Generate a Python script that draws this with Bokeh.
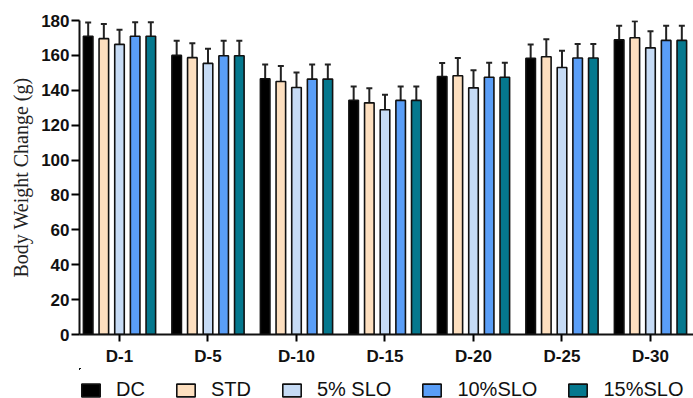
from bokeh.plotting import figure
from bokeh.layouts import column
from bokeh.models import (ColumnDataSource, Range1d, FixedTicker, Whisker, TeeHead,
                          Legend, LegendItem)
from bokeh.embed import file_html
from bokeh.resources import INLINE

days = ["D-1", "D-5", "D-10", "D-15", "D-20", "D-25", "D-30"]
groups = ["DC", "STD", "5% SLO", "10%SLO", "15%SLO"]
colors = ["#000000", "#FDDFBF", "#C6DBF5", "#5A9EF7", "#05788E"]

dc = [171.0, 160.0, 146.6, 134.3, 147.9, 158.3, 169.0]
std = [169.6, 158.7, 145.0, 132.8, 148.3, 159.2, 170.1]
slo5 = [166.3, 155.4, 141.6, 128.8, 141.4, 153.1, 164.3]
slo10 = [171.0, 159.8, 146.4, 134.2, 147.5, 158.5, 168.6]
slo15 = [171.0, 159.8, 146.4, 134.2, 147.5, 158.5, 168.6]

dc_err = [7.9, 8.4, 8.2, 7.9, 7.7, 8.0, 8.0]
std_err = [8.4, 8.3, 8.9, 8.4, 10.2, 10.0, 9.4]
slo5_err = [8.4, 8.4, 8.6, 8.6, 10.1, 9.6, 9.6]
slo10_err = [8.0, 8.6, 8.4, 8.0, 8.3, 8.0, 8.4]
slo15_err = [8.0, 8.6, 8.4, 8.0, 8.3, 8.0, 8.4]

series = [dc, std, slo5, slo10, slo15]
errors = [dc_err, std_err, slo5_err, slo10_err, slo15_err]

p = figure(frame_width=614, frame_height=314, output_backend="svg", toolbar_location=None,
           x_range=Range1d(-0.452, 6.486), y_range=Range1d(0, 180),
           min_border_left=79, min_border_right=0, min_border_top=20,
           min_border_bottom=0)
p.outline_line_color = None
p.xgrid.grid_line_color = None
p.ygrid.grid_line_color = None
p.background_fill_color = "white"
p.border_fill_color = "white"

# separate strip for the legend (its view range shows none of the bars themselves)
lg = figure(width=693, height=33, output_backend="svg", toolbar_location=None,
            x_range=Range1d(100, 101), y_range=Range1d(-5000, -4999),
            min_border_left=0, min_border_right=0, min_border_top=0,
            min_border_bottom=0)
lg.axis.visible = False
lg.grid.visible = False
lg.outline_line_color = None
lg.border_fill_color = "white"
lg.background_fill_color = "white"

pitch = 0.177
bar_w = 0.108
items = []
for k, (name, vals, errs, col) in enumerate(zip(groups, series, errors, colors)):
    xs = [i + (k - 2) * pitch for i in range(len(days))]
    src = ColumnDataSource(dict(x=xs, top=vals, up=[v + e for v, e in zip(vals, errs)]))
    p.vbar(x="x", top="top", width=bar_w, source=src, fill_color=col,
           line_color="#111111", line_width=1.6)
    w = Whisker(base="x", lower="top", upper="up", source=src,
                line_color="#222222", line_width=2,
                upper_head=TeeHead(size=6, line_color="#222222", line_width=2),
                lower_head=None)
    p.add_layout(w)
    key = lg.vbar(x="x", top="top", width=bar_w, source=src, fill_color=col,
                  line_color="#111111", line_width=1.6)
    items.append(LegendItem(label=name, renderers=[key], index=0))

# axes
p.yaxis.ticker = FixedTicker(ticks=list(range(0, 181, 20)))
p.yaxis.axis_line_width = 2
p.yaxis.axis_line_color = "#111111"
p.yaxis.major_tick_line_width = 2
p.yaxis.major_tick_out = 8
p.yaxis.major_tick_in = 0
p.yaxis.minor_tick_line_color = None
p.yaxis.major_label_text_font = "Liberation Sans"
p.yaxis.major_label_text_font_style = "bold"
p.yaxis.major_label_text_font_size = "17px"
p.yaxis.major_label_text_color = "#111111"
p.yaxis.major_label_standoff = 2
p.yaxis.axis_label = "Body Weight Change (g)"
p.yaxis.axis_label_text_font = "Liberation Serif"
p.yaxis.axis_label_text_font_style = "normal"
p.yaxis.axis_label_text_font_size = "20px"
p.yaxis.axis_label_text_color = "#222222"
p.yaxis.axis_label_standoff = 6

p.xaxis.ticker = FixedTicker(ticks=list(range(len(days))))
p.xaxis.major_label_overrides = {i: d for i, d in enumerate(days)}
p.xaxis.axis_line_width = 2
p.xaxis.axis_line_color = "#111111"
p.xaxis.major_tick_line_width = 2
p.xaxis.major_tick_out = 7
p.xaxis.major_tick_in = 0
p.xaxis.minor_tick_line_color = None
p.xaxis.major_label_text_font = "Liberation Sans"
p.xaxis.major_label_text_font_style = "bold"
p.xaxis.major_label_text_font_size = "17px"
p.xaxis.major_label_text_color = "#111111"
p.xaxis.major_label_standoff = 5

legend = Legend(items=items, orientation="horizontal", location=(0, 0),
                glyph_width=23, glyph_height=16, label_standoff=14, spacing=29,
                padding=0, margin=0, border_line_color=None,
                background_fill_alpha=0,
                label_text_font="Liberation Sans", label_text_font_size="20px",
                label_text_color="#111111")
lg.add_layout(legend, "center")

layout = column(p, lg, spacing=0)
open("out.html", "w").write(file_html(layout, INLINE))
